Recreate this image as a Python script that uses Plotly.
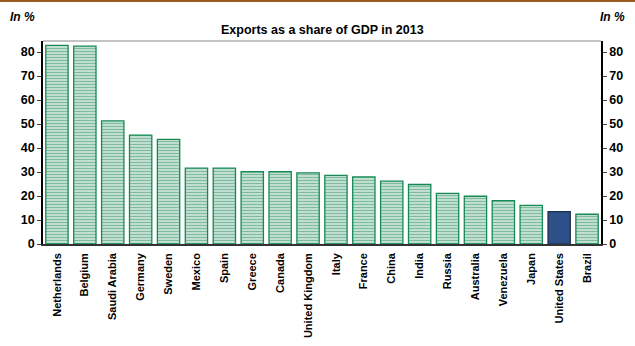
import plotly.graph_objects as go

countries = ["Netherlands", "Belgium", "Saudi Arabia", "Germany", "Sweden", "Mexico", "Spain",
             "Greece", "Canada", "United Kingdom", "Italy", "France", "China", "India", "Russia",
             "Australia", "Venezuela", "Japan", "United States", "Brazil"]
values = [82.8, 82.5, 51.3, 45.4, 43.6, 31.6, 31.6, 30.1, 30.1, 29.6, 28.6, 28.0, 26.2, 24.8,
          21.1, 19.9, 18.1, 16.1, 13.5, 12.4]
y_ticks = [0, 10, 20, 30, 40, 50, 60, 70, 80]
title_text = "Exports as a share of GDP in 2013"
unit_text = "In %"
highlight = "United States"

green = "#007A40"
blue = "#2D5088"
font_family = "Liberation Sans, Arial, sans-serif"

green_vals = [None if c == highlight else v for c, v in zip(countries, values)]
blue_vals = [v if c == highlight else None for c, v in zip(countries, values)]

fig = go.Figure()
fig.add_trace(go.Bar(
    x=countries, y=green_vals,
    marker=dict(color="white", line=dict(color="#168A55", width=1.3),
                pattern=dict(shape="-", fgcolor=green, bgcolor="white", size=3, solidity=0.66)),
    width=0.8, showlegend=False,
))
fig.add_trace(go.Bar(
    x=countries, y=blue_vals,
    marker=dict(color=blue, line=dict(color="#1E2E4E", width=1.2)),
    width=0.8, showlegend=False,
))
fig.add_trace(go.Scatter(x=[countries[0]], y=[0], yaxis="y2", mode="markers",
                         marker=dict(opacity=0), showlegend=False, hoverinfo="skip"))

tickfont = dict(family=font_family, size=12.5, color="black", weight="bold")
yrange = [0, 84.6]
fig.update_layout(
    width=635, height=346,
    barmode="overlay",
    margin=dict(l=43, r=34, t=41, b=102, autoexpand=False),
    paper_bgcolor="white", plot_bgcolor="white",
    font=dict(family=font_family, color="black"),
    xaxis=dict(tickangle=-90, automargin=False,
               tickfont=dict(family=font_family, size=11, color="black", weight="bold"),
               ticklabelstandoff=3,
               showline=True, linecolor="#333333", linewidth=1.5, ticks="", showgrid=False,
               range=[-0.5, len(countries) - 0.5]),
    yaxis=dict(range=yrange, tickvals=y_ticks, ticks="outside", ticklen=4, tickcolor="#444",
               automargin=False,
               showline=True, linecolor="black", linewidth=1.5, showgrid=False, zeroline=False,
               tickfont=tickfont),
    yaxis2=dict(range=yrange, tickvals=y_ticks, ticks="outside", ticklen=4, tickcolor="#444",
                automargin=False,
                overlaying="y", side="right", showline=True, linecolor="black", linewidth=1.5,
                showgrid=False, zeroline=False, tickfont=tickfont),
    shapes=[
        dict(type="line", xref="paper", yref="paper", x0=0, x1=1, y0=1, y1=1,
             line=dict(color="#888888", width=1)),
        dict(type="line", xref="paper", yref="paper", x0=-43 / 558, x1=(635 - 43) / 558,
             y0=1 + 40 / 203, y1=1 + 40 / 203, line=dict(color="#9A5A22", width=2)),
    ],
    annotations=[
        dict(text="<b>" + title_text + "</b>", xref="paper", yref="paper", x=0.5, y=1,
             yshift=2, yanchor="bottom", showarrow=False,
             font=dict(family=font_family, size=12.5, color="black")),
        dict(text="<b><i>" + unit_text + "</i></b>", xref="paper", yref="paper", x=-43 / 558,
             xshift=8, xanchor="left", y=1 + 24 / 203, yanchor="middle", showarrow=False,
             font=dict(family=font_family, size=12, color="black")),
        dict(text="<b><i>" + unit_text + "</i></b>", xref="paper", yref="paper",
             x=(635 - 43) / 558, xshift=-8, xanchor="right", y=1 + 24 / 203, yanchor="middle",
             showarrow=False, font=dict(family=font_family, size=12, color="black")),
    ],
)
fig.write_html("out.html")
